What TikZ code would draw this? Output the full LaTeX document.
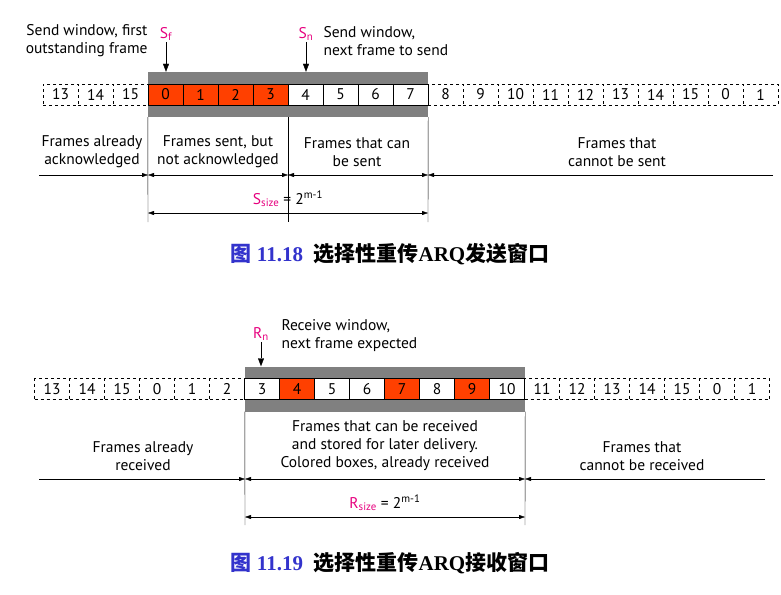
\documentclass[tikz,border=0pt]{standalone}
\usepackage{fontspec}
\setmainfont{PT Sans}
\newfontfamily\capfont{Liberation Serif}
\newfontfamily\cjk{Noto Sans CJK SC}
\usetikzlibrary{calc,positioning,arrows.meta}
\definecolor{sentred}{RGB}{255,64,0}
\definecolor{ptrpink}{RGB}{230,0,126}
\definecolor{capblue}{RGB}{51,51,204}
\definecolor{bandgray}{RGB}{128,128,128}
\newcommand{\lblfont}{\fontsize{15.5}{18}\selectfont}
\newcommand{\capsize}{\fontsize{21}{25}\selectfont}

\begin{document}
\begin{tikzpicture}[x=1pt,y=-1pt,>={Triangle[length=6pt,width=4pt]},
  cell/.style={draw,minimum width=35pt,minimum height=21pt,inner sep=0pt,font=\lblfont},
  ghost/.style={cell,dashed},
  sent/.style={cell,fill=sentred},
  free/.style={cell,fill=white},
  band/.style={fill=bandgray,inner sep=0pt,minimum height=45pt},
  lbl/.style={font=\lblfont,align=center},
  ptr/.style={font=\lblfont,text=ptrpink,inner sep=1pt},
  pointer/.style={-{Triangle[length=8pt,width=6pt]}},
  figcap/.style={font=\capsize\capfont\bfseries}]
\useasboundingbox (0,0) rectangle (781,594);

% send window
\node[band,minimum width=280pt] (sw) at (288,94.5) {};
\foreach \n/\s [count=\k from 0] in {13/ghost,14/ghost,15/ghost,0/sent,1/sent,2/sent,3/sent,
  4/free,5/free,6/free,7/free,8/ghost,9/ghost,10/ghost,11/ghost,12/ghost,13/ghost,14/ghost,15/ghost,0/ghost,1/ghost}
  \node[\s] (t\k) at ({60.5+35*\k},94.5) {\n};

\node[ptr] (Sf) at (166,34) {S\textsubscript{f}};
\node[ptr] (Sn) at (306,34) {S\textsubscript{n}};
\node[lbl,align=right,anchor=east] (sfl) at (151,41) {Send window, first\\outstanding frame};
\node[lbl,align=left,anchor=west] (snl) at (320,41) {Send window,\\next frame to send};
\draw[pointer] (Sf.south) -- (Sf.south |- sw.north);
\draw[pointer] (Sn.south) -- (Sn.south |- sw.north);

\coordinate (sa) at (148,222);
\coordinate (sb) at (288,222);
\coordinate (sc) at (428,222);
\coordinate (sl) at (39,175);
\coordinate (sr) at (773,175);
\draw (sw.south west) -- (sa);
\draw (sb |- sw.south) -- (sb);
\draw (sw.south east) -- (sc);
\draw[->] (sl) -- (sl -| sa);
\draw[<->] (sl -| sa) -- (sl -| sb);
\draw[<->] (sl -| sb) -- (sl -| sc);
\draw[->] (sr) -- (sr -| sc);
\draw[<->] ($(sa)+(0,-9)$) -- ($(sc)+(0,-9)$);

\node[lbl] (ack) at (92,152) {Frames already\\acknowledged};
\node[lbl] (out) at (218,152) {Frames sent, but\\not acknowledged};
\node[lbl] (can) at (357,152) {Frames that can\\be sent};
\node[lbl] (cant) at (617,152) {Frames that\\cannot be sent};
\node[lbl] (ssz) at (288,199) {{\color{ptrpink}S\textsubscript{size}} = 2\textsuperscript{m-1}};

\node[figcap] (cap1) at (390,254) {{\color{capblue}{\cjk 图} 11.18}\enspace{\cjk 选择性重传}ARQ{\cjk 发送窗口}};

% receive window
\node[band,minimum width=280pt] (rw) at (385,389) {};
\foreach \n/\s [count=\k from 0] in {13/ghost,14/ghost,15/ghost,0/ghost,1/ghost,2/ghost,3/free,4/sent,
  5/free,6/free,7/sent,8/free,9/sent,10/free,11/ghost,12/ghost,13/ghost,14/ghost,15/ghost,0/ghost,1/ghost}
  \node[\s] (b\k) at ({52+35*\k},389) {\n};

\node[ptr] (Rn) at (261,334) {R\textsubscript{n}};
\node[lbl,align=left,anchor=west] (rnl) at (278,336) {Receive window,\\next frame expected};
\draw[pointer] (Rn.south) -- (Rn.south |- rw.north);

\coordinate (ra) at (245,525);
\coordinate (rb) at (525,525);
\coordinate (rl) at (39,479);
\coordinate (rr) at (765,479);
\draw (rw.south west) -- (ra);
\draw (rw.south east) -- (rb);
\draw[->] (rl) -- (rl -| ra);
\draw[<->] (rl -| ra) -- (rl -| rb);
\draw[->] (rr) -- (rr -| rb);
\draw[<->] ($(ra)+(0,-8)$) -- ($(rb)+(0,-8)$);

\node[lbl] (got) at (143,456) {Frames already\\received};
\node[lbl] (store) at (385,446) {Frames that can be received\\and stored for later delivery.\\Colored boxes, already received};
\node[lbl] (nogo) at (642,456) {Frames that\\cannot be received};
\node[lbl] (rsz) at (385,503) {{\color{ptrpink}R\textsubscript{size}} = 2\textsuperscript{m-1}};

\node[figcap] (cap2) at (390,563) {{\color{capblue}{\cjk 图} 11.19}\enspace{\cjk 选择性重传}ARQ{\cjk 接收窗口}};
\end{tikzpicture}
\end{document}
